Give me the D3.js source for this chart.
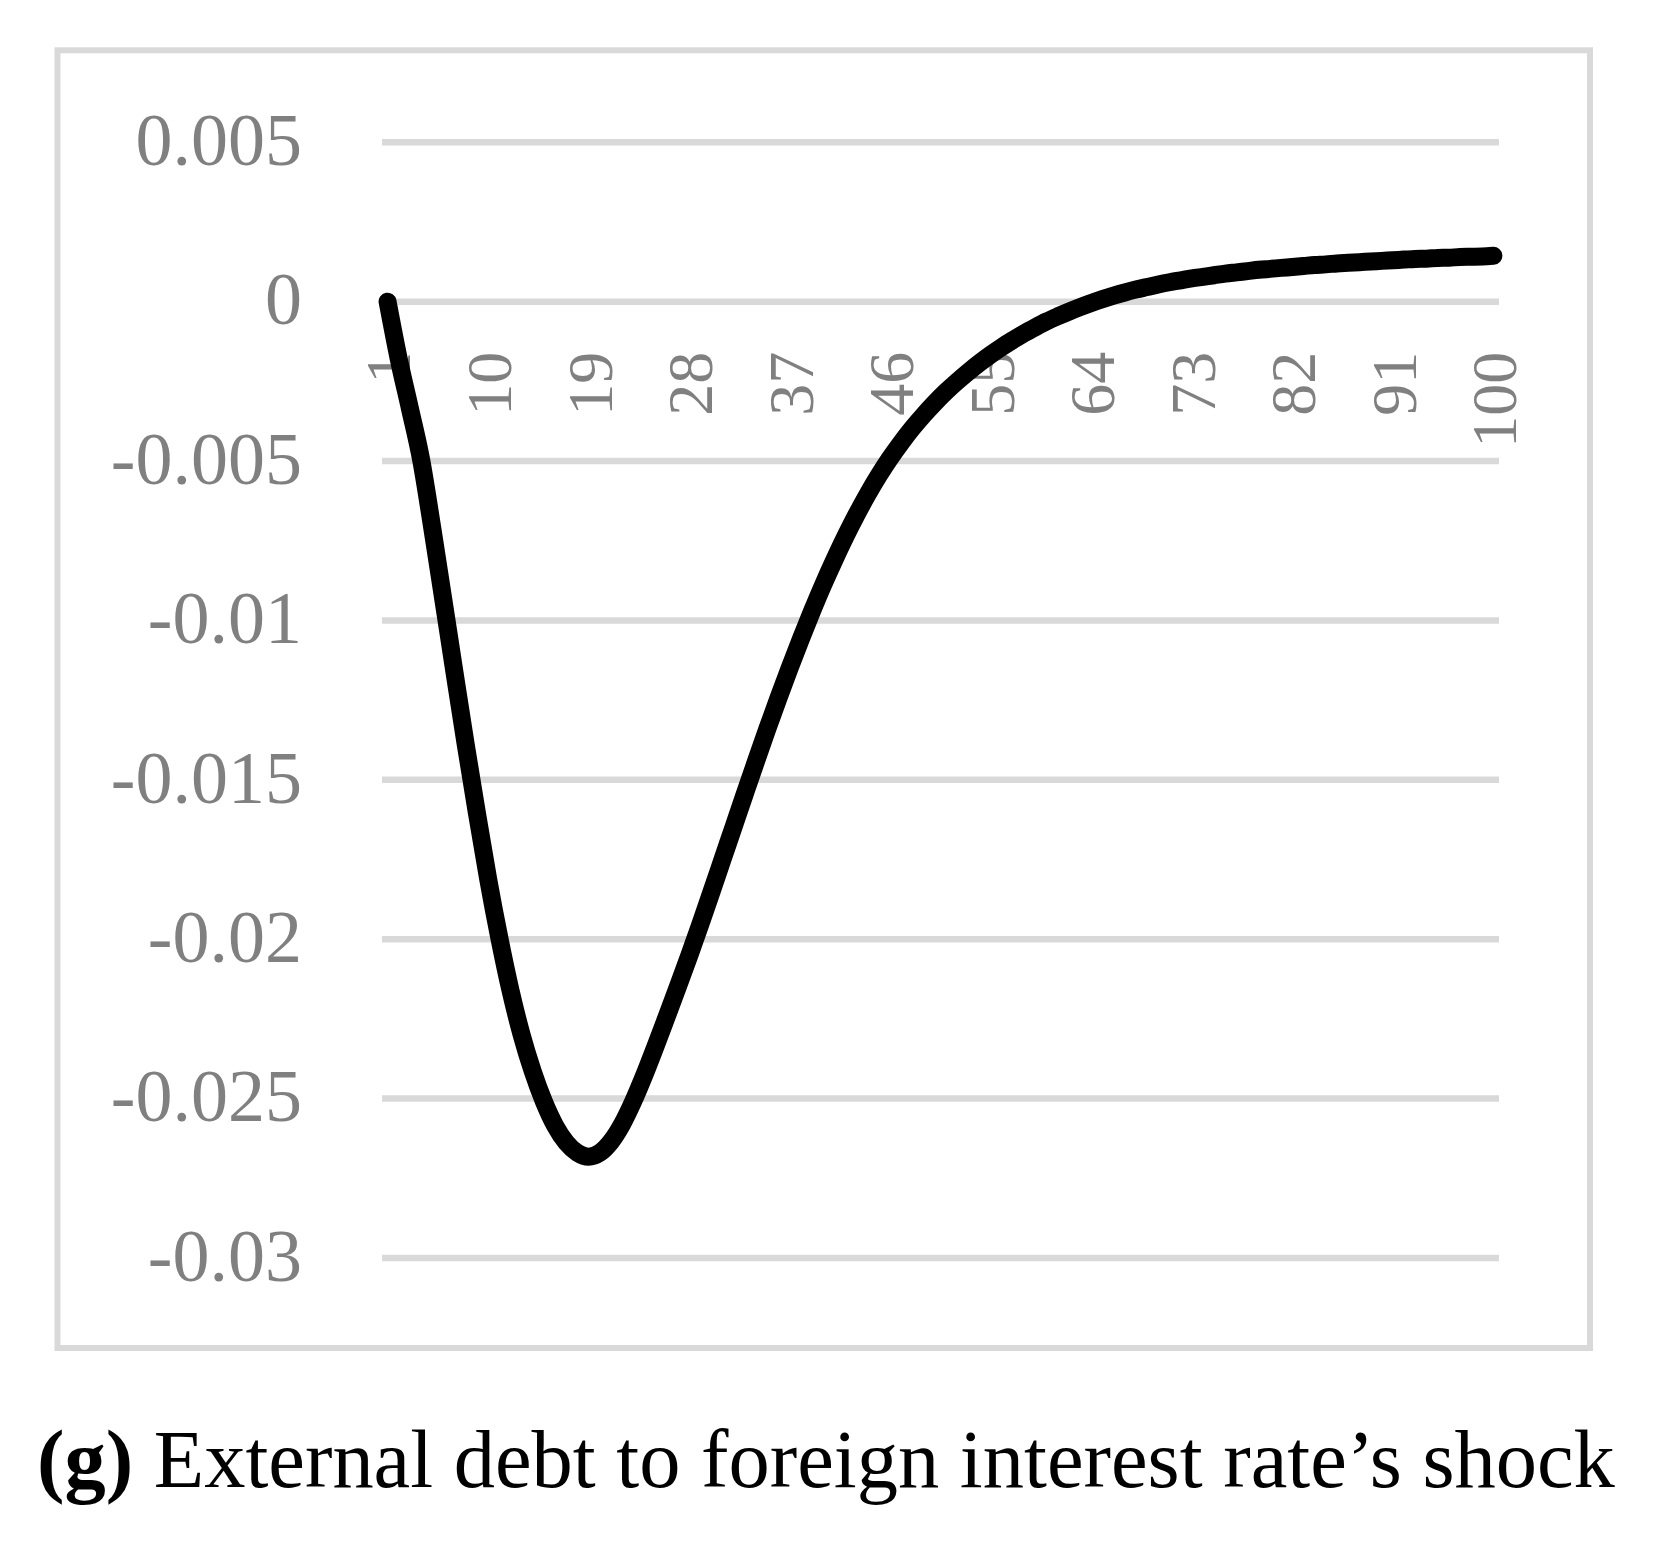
<!DOCTYPE html>
<html>
<head>
<meta charset="utf-8">
<script src="https://cdn.jsdelivr.net/npm/d3@7"></script>
<style>
  html, body { margin: 0; padding: 0; background: #ffffff; }
  svg { display: block; }
</style>
</head>
<body>
<svg id="chart" width="1677" height="1553"></svg>
<script>
// ---- data ----
const periods = d3.range(1, 101);
const values = [
  0, -0.00180, -0.00335, -0.00495, -0.00710, -0.00937, -0.01165, -0.01390, -0.01605, -0.01810,
  -0.01995, -0.02160, -0.02300, -0.02415, -0.02510, -0.02585, -0.02638, -0.02670, -0.02682, -0.02670,
  -0.02635, -0.02580, -0.02508, -0.02425, -0.02335, -0.02242, -0.02148, -0.02052, -0.01953, -0.01851,
  -0.01748, -0.01645, -0.01542, -0.01440, -0.01340, -0.01243, -0.01149, -0.01058, -0.00971, -0.00888,
  -0.00810, -0.00736, -0.00667, -0.00603, -0.00544, -0.00490, -0.00441, -0.00396, -0.00355, -0.00317,
  -0.00282, -0.00250, -0.00220, -0.00192, -0.00166, -0.00142, -0.00120, -0.00099, -0.00080, -0.00062,
  -0.00046, -0.00031, -0.00017, -0.00004, 0.00008, 0.00019, 0.00029, 0.00038, 0.00046, 0.00054,
  0.00061, 0.00067, 0.00073, 0.00078, 0.00083, 0.00088, 0.00092, 0.00096, 0.00100, 0.00103,
  0.00106, 0.00109, 0.00112, 0.00115, 0.00117, 0.00120, 0.00122, 0.00124, 0.00126, 0.00128,
  0.00130, 0.00132, 0.00134, 0.00135, 0.00137, 0.00138, 0.00140, 0.00141, 0.00142, 0.00144
];
const yTicks = [0.005, 0, -0.005, -0.01, -0.015, -0.02, -0.025, -0.03];
const yTickLabels = ["0.005", "0", "-0.005", "-0.01", "-0.015", "-0.02", "-0.025", "-0.03"];
const xTickLabels = [1, 10, 19, 28, 37, 46, 55, 64, 73, 82, 91, 100];
const captionBold = "(g)";
const captionText = " External debt to foreign interest rate\u2019s shock";

// ---- layout ----
const svg = d3.select("#chart");
const plot = { left: 382, right: 1499, top: 142.3, bottom: 1258 };
const grey = "#d9d9d9";
const labelColor = "#808080";
const serif = "'Liberation Serif', 'Times New Roman', serif";

svg.append("rect").attr("x", 0).attr("y", 0).attr("width", 1677).attr("height", 1553).attr("fill", "#fff");

// chart border
svg.append("rect")
  .attr("x", 57.5).attr("y", 50.3)
  .attr("width", 1590 - 57.5).attr("height", 1348 - 50.3)
  .attr("fill", "none").attr("stroke", grey).attr("stroke-width", 6);

const x = d3.scalePoint().domain(periods).range([plot.left, plot.right]).padding(0.5);
const y = d3.scaleLinear().domain([-0.03, 0.005]).range([plot.bottom, plot.top]);

// gridlines
svg.append("g").selectAll("line").data(yTicks).join("line")
  .attr("x1", plot.left).attr("x2", plot.right)
  .attr("y1", d => y(d)).attr("y2", d => y(d))
  .attr("stroke", grey).attr("stroke-width", 6.5);

// y-axis labels
const yAxis = d3.axisLeft(y).tickValues(yTicks).tickSize(0).tickPadding(0)
  .tickFormat((d, i) => yTickLabels[i]);
const gy = svg.append("g").attr("transform", "translate(302,0)").call(yAxis);
gy.select(".domain").remove();
gy.selectAll("text")
  .attr("font-family", serif).attr("font-size", 74).attr("fill", labelColor)
  .attr("dy", "0.3em");

// x-axis labels (rotated, hanging below the zero line)
const xAxis = d3.axisBottom(x).tickValues(xTickLabels).tickSize(0).tickPadding(0);
const gx = svg.append("g").attr("transform", `translate(0,${y(0)})`).call(xAxis);
gx.select(".domain").remove();
gx.selectAll("text")
  .attr("font-family", serif).attr("font-size", 64).attr("fill", labelColor)
  .attr("text-anchor", "end")
  .attr("transform", "translate(0,50) rotate(-90)")
  .attr("x", 0).attr("y", 0).attr("dy", "0.35em");

// line
const line = d3.line().x((d, i) => x(periods[i])).y(d => y(d)).curve(d3.curveMonotoneX);
svg.append("path").datum(values)
  .attr("d", line)
  .attr("fill", "none").attr("stroke", "#000").attr("stroke-width", 18)
  .attr("stroke-linejoin", "round").attr("stroke-linecap", "round");

// caption
const cap = svg.append("text")
  .attr("x", 37).attr("y", 1487)
  .attr("font-family", serif).attr("font-size", 70).attr("fill", "#000");
cap.append("tspan").attr("font-weight", "bold").text(captionBold);
cap.append("tspan").text(captionText);
const w = cap.node().getComputedTextLength();
const targetW = 1578;
cap.attr("font-size", 70 * targetW / w);
</script>
</body>
</html>
